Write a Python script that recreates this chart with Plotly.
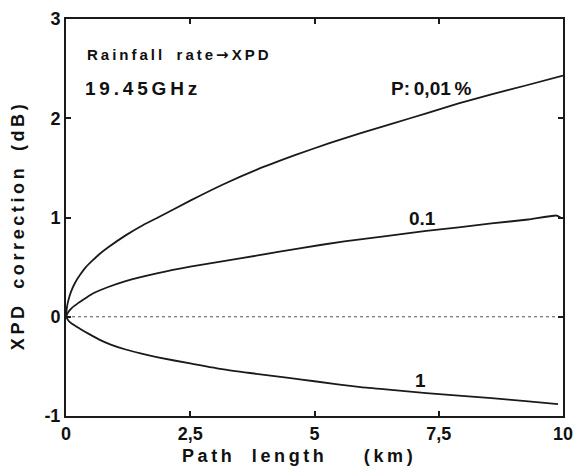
import plotly.graph_objects as go

# Path length (km) and XPD correction (dB) for each time percentage
x_p001 = [0, 0.02, 0.05, 0.1, 0.18, 0.28, 0.4, 0.54, 0.67, 0.85, 1.2, 1.5, 1.85, 2.5, 3.17,
          3.83, 4.62, 5.3, 5.93, 6.6, 7.25, 7.9, 8.56, 9.25, 10.0]
y_p001 = [0, 0.10, 0.17, 0.25, 0.34, 0.42, 0.50, 0.57, 0.63, 0.70, 0.82, 0.91, 1.00, 1.17, 1.335,
          1.48, 1.63, 1.75, 1.85, 1.95, 2.05, 2.15, 2.24, 2.33, 2.43]

x_p01 = [0, 0.05, 0.12, 0.25, 0.4, 0.54, 0.85, 1.2, 1.85, 2.5, 3.17, 3.83, 4.7, 5.6, 6.4,
         7.25, 7.9, 8.56, 9.3, 9.87, 9.95]
y_p01 = [0, 0.05, 0.09, 0.14, 0.19, 0.235, 0.30, 0.36, 0.44, 0.505, 0.56, 0.615, 0.69, 0.76, 0.81,
         0.865, 0.90, 0.94, 0.98, 1.02, 1.00]

x_p1 = [0, 0.05, 0.12, 0.28, 0.45, 0.67, 0.9, 1.2, 1.5, 1.85, 2.5, 3.17, 3.83, 4.48, 5.0,
        5.93, 6.6, 7.25, 7.9, 8.56, 9.25, 9.9]
y_p1 = [0, -0.04, -0.07, -0.12, -0.17, -0.23, -0.28, -0.33, -0.37, -0.41, -0.47, -0.53, -0.575,
        -0.615, -0.65, -0.71, -0.74, -0.77, -0.795, -0.82, -0.85, -0.88]

x_zero = [0, 10]
y_zero = [0, 0]

x_tickvals = [0, 2.5, 5, 7.5, 10]
x_ticktext = ["0", "2,5", "5", "7,5", "10"]
y_tickvals = [-1, 0, 1, 2, 3]
y_ticktext = ["-1", "0", "1", "2", "3"]

curve_labels = [
    ("P:\u20090,01\u2009%", 7.36, 2.30),
    ("0.1", 7.18, 0.985),
    ("1", 7.14, -0.64),
]

LINE = "#1a1a1a"
FONT = "Liberation Sans"


def spaced(s, gap="\u2009"):
    out = []
    for ch in s:
        if ch == " ":
            out.append("\u00a0\u00a0")
        else:
            out.append(ch)
    return gap.join(out)


fig = go.Figure()
fig.add_trace(go.Scatter(x=x_zero, y=y_zero, mode="lines",
                         line=dict(color="#555555", width=1.2, dash="dot"),
                         showlegend=False, hoverinfo="skip"))
for xs, ys in [(x_p001, y_p001), (x_p01, y_p01), (x_p1, y_p1)]:
    fig.add_trace(go.Scatter(x=xs, y=ys, mode="lines",
                             line=dict(color=LINE, width=1.8, shape="spline", smoothing=0.5),
                             showlegend=False))

for txt, xx, yy in curve_labels:
    fig.add_annotation(x=xx, y=yy, text=txt, showarrow=False,
                       font=dict(family=FONT, size=19, color="#111", weight="bold"))

fig.add_annotation(x=0.039, y=0.910, xref="paper", yref="paper", xanchor="left", yanchor="middle",
                   text=spaced("Rainfall rate") + "\u2009<span style='font-family:DejaVu Sans'>\u2192</span>\u2009" + spaced("XPD"),
                   showarrow=False,
                   font=dict(family=FONT, size=15, color="#111", weight="bold"))
fig.add_annotation(x=0.035, y=0.826, xref="paper", yref="paper", xanchor="left", yanchor="middle",
                   text=spaced("19.45GHz"), showarrow=False,
                   font=dict(family=FONT, size=19, color="#111", weight="bold"))

# axis titles
fig.add_annotation(x=-0.095, y=0.475, xref="paper", yref="paper", xanchor="center", yanchor="middle",
                   textangle=-90, text=spaced("XPD correction (dB)"), showarrow=False,
                   font=dict(family=FONT, size=18, color="#111", weight="bold"))
fig.add_annotation(x=0.465, y=-0.102, xref="paper", yref="paper", xanchor="center", yanchor="middle",
                   text=spaced("Path") + "\u00a0\u00a0\u00a0\u00a0" + spaced("length") + "\u00a0\u00a0\u00a0\u00a0\u00a0\u00a0\u00a0\u00a0" + spaced("(km)"),
                   showarrow=False,
                   font=dict(family=FONT, size=18, color="#111", weight="bold"))

fig.update_layout(
    width=582, height=471,
    margin=dict(l=66, r=9, t=14, b=55),
    paper_bgcolor="white", plot_bgcolor="white",
    font=dict(family=FONT, color="#111"),
)
fig.update_xaxes(range=[0, 10], tickvals=x_tickvals, ticktext=x_ticktext,
                 ticks="inside", ticklen=5, tickcolor=LINE, tickwidth=1.5,
                 showline=True, linecolor=LINE, linewidth=2, mirror="allticks",
                 showgrid=False, zeroline=False,
                 tickfont=dict(family=FONT, size=18, weight="bold"))
fig.update_yaxes(range=[-1, 3], tickvals=y_tickvals, ticktext=y_ticktext,
                 ticks="inside", ticklen=5, tickcolor=LINE, tickwidth=1.5,
                 showline=True, linecolor=LINE, linewidth=2, mirror="allticks",
                 showgrid=False, zeroline=False,
                 tickfont=dict(family=FONT, size=18, weight="bold"))

fig.write_html("out.html")
